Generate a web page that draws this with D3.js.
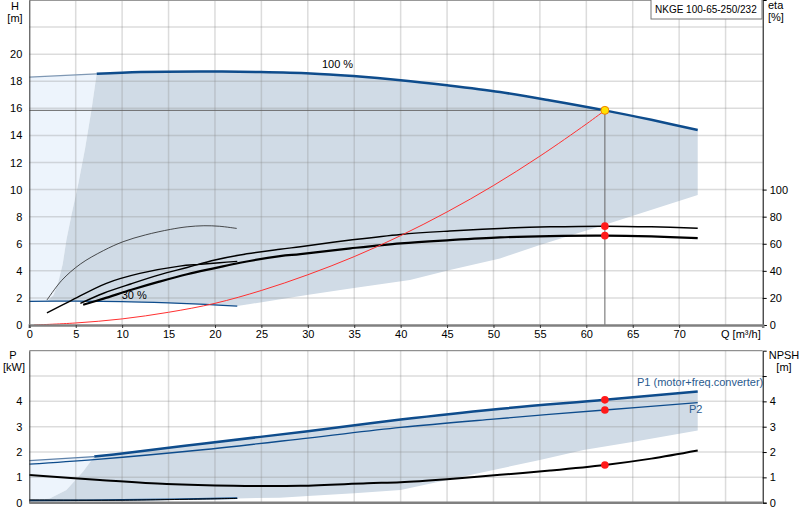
<!DOCTYPE html>
<html>
<head>
<meta charset="utf-8">
<script src="https://cdn.jsdelivr.net/npm/d3@7"></script>
<style>
  body { margin: 0; background: #fff; }
  text { font-family: "Liberation Sans", Arial, sans-serif; font-size: 11px; fill: #000; }
</style>
</head>
<body>
<div id="pumpChart"></div>
<script>
// ticks
var qTicks = [0, 5, 10, 15, 20, 25, 30, 35, 40, 45, 50, 55, 60, 65, 70];
var qGrid = [5, 10, 15, 20, 25, 30, 35, 40, 45, 50, 55, 60, 65, 70, 75];
var hTicks = [0, 2, 4, 6, 8, 10, 12, 14, 16, 18, 20];
var hGrid = [2, 4, 6, 8, 10, 12, 14, 16, 18, 20, 22];
var etaTicks = [0, 20, 40, 60, 80, 100];
var pTicks = [0, 1, 2, 3, 4];
var pGrid = [1, 2, 3, 4, 5];

// QH curves [Q m3/h, H m]
var hMax = [[0, 18.3], [7.26, 18.55], [12, 18.68], [18.4, 18.72], [24.9, 18.68], [30.3, 18.58], [34.9, 18.38],
            [40, 18.08], [45, 17.7], [50.7, 17.2], [56, 16.6], [62, 15.85], [67, 15.15], [72, 14.4]];
var hMin = [[0, 1.75], [5, 1.76], [10, 1.73], [15, 1.63], [19, 1.52], [22.4, 1.4]];
var hShadeLeft = [[1.9, 1.75], [2.6, 2.2], [3.1, 3.1], [3.6, 4.5], [4.0, 6.3], [4.6, 8.3], [5.3, 10.5],
                  [6.0, 13.0], [6.7, 15.9], [7.26, 18.55]];
var hShadeLow = [[22.4, 1.4], [23.8, 1.55], [29.9, 2.21], [34.6, 2.7], [41, 3.32], [45.3, 4.06],
                 [50.7, 4.92], [55, 5.9], [62, 7.4], [72, 9.6]];
var system = [[0.5, 0], [5, 0.15], [10, 0.45], [15, 0.94], [20, 1.6], [25, 2.55], [30, 3.71], [35, 5.05],
              [40, 6.6], [45, 8.35], [50, 10.3], [55, 12.47], [60, 14.84], [62, 15.85]];
var dutyPoint = [62, 15.85];

// efficiency curves [Q, eta %]
var etaThin = [[1.9, 18.4], [3.5, 33], [5.5, 45], [8, 55], [10.1, 61.5], [12.5, 66.5], [15.2, 70.6],
               [17, 72.5], [18.8, 73.3], [20.5, 72.9], [22.35, 71.3]];
var etaLow = [[1.9, 9], [4.4, 17.7], [8.3, 30.8], [11.9, 38.1], [16.2, 43.5], [18.4, 44.8], [20.5, 46], [22.4, 47]];
var etaPump = [[5.5, 16], [8, 23.5], [11, 30.5], [14, 37], [17, 42.5], [20, 48], [22.7, 51.7], [27, 55.9],
               [29.2, 57.8], [34.6, 62.7], [40, 66.9], [45.3, 69.4], [50.7, 71.3], [56.1, 72.5], [62, 73],
               [67, 72.5], [72, 71.4]];
var etaTotal = [[5.8, 15], [8, 19.5], [11, 26], [14, 32], [17, 37.5], [20, 42], [22.7, 46], [27, 50.9],
                [29.2, 52.4], [34.6, 56.6], [40, 60.3], [45.3, 62.7], [50.7, 64.7], [56.1, 65.7], [62, 66],
                [67, 65.4], [72, 64.2]];
var etaDuty = [73, 66];

// power / npsh curves [Q, kW or m]
var p1 = [[0, 1.66], [7, 1.82], [10, 1.94], [18.4, 2.32], [30, 2.82], [40, 3.28], [50, 3.68], [62, 4.06], [72, 4.39]];
var p2 = [[0, 1.52], [7, 1.7], [18.4, 2.08], [30, 2.55], [40, 2.97], [50, 3.3], [62, 3.66], [72, 3.95]];
var p1Min = [[0, 0.08], [10, 0.11], [22.4, 0.18]];
var p2Min = [[0, 0.11], [10, 0.1], [22.4, 0.17]];
var pShadeLeft = [[0.4, 0.08], [2.2, 0.17], [4.0, 0.5], [5.8, 1.23], [7, 1.82]];
var pShadeLow = [[22.4, 0.17], [27, 0.2], [30, 0.26], [35, 0.37], [40, 0.5], [45, 0.9], [50, 1.29],
                 [55, 1.69], [59.7, 2.08], [65.1, 2.41], [72, 2.85]];
var npsh = [[0, 1.09], [7.6, 0.9], [14.8, 0.74], [22, 0.67], [29.2, 0.67], [36.4, 0.77], [40, 0.81], [45, 0.93],
            [50.7, 1.1], [56.1, 1.27], [62, 1.49], [67, 1.74], [72, 2.06]];
var pDuty = [4.06, 3.66];
var npshDuty = 1.49;

var blue = "#0e4c8c", shade = "#d0dbe6", light = "#edf4fc";

function pumpChart() {
  var width = 800, height = 520;
  var svg = d3.select("#pumpChart").append("svg")
      .attr("width", width).attr("height", height);

  var x = d3.scaleLinear().domain([0, 79]).range([29.3, 762.7]);
  var yH = d3.scaleLinear().domain([0, 24]).range([325, 0]);
  var yEta = d3.scaleLinear().domain([0, 240]).range([325, 0]);
  var yP = d3.scaleLinear().domain([0, 6]).range([502.7, 350.7]);

  var lineH = d3.line().x(d => x(d[0])).y(d => yH(d[1])).curve(d3.curveCatmullRom);
  var lineEta = d3.line().x(d => x(d[0])).y(d => yEta(d[1])).curve(d3.curveCatmullRom);
  var lineP = d3.line().x(d => x(d[0])).y(d => yP(d[1])).curve(d3.curveCatmullRom);
  var polyH = d3.line().x(d => x(d[0])).y(d => yH(d[1])).curve(d3.curveLinearClosed);
  var polyP = d3.line().x(d => x(d[0])).y(d => yP(d[1])).curve(d3.curveLinearClosed);

  // ---------- upper chart: H / eta ----------
  var top = svg.append("g");

  // light (not reachable) region left of the shaded area
  var hTopLeft = hMax.filter(d => d[0] <= 7.26);
  var lightH = [[0, hMin[0][1]]].concat(hShadeLeft, hTopLeft.slice().reverse());
  top.append("path").attr("d", polyH(lightH)).attr("fill", light);

  // shaded operating range
  var shadeH = hShadeLeft.concat(hMax.filter(d => d[0] > 7.26), hShadeLow.slice().reverse(),
                                 hMin.slice().reverse().filter(d => d[0] > 1.9));
  top.append("path").attr("d", polyH(shadeH)).attr("fill", shade);

  // grid
  top.selectAll(".vg").data(qGrid).enter().append("line")
     .attr("x1", d => x(d)).attr("x2", d => x(d)).attr("y1", 0).attr("y2", 325)
     .attr("stroke", "#8a8a8a").attr("stroke-opacity", 0.3).attr("stroke-width", 1.5);
  top.selectAll(".hg").data(hGrid).enter().append("line")
     .attr("x1", x(0)).attr("x2", x(79)).attr("y1", d => yH(d)).attr("y2", d => yH(d))
     .attr("stroke", "#8a8a8a").attr("stroke-opacity", 0.3).attr("stroke-width", 1.5);
  top.append("line").attr("x1", x(0)).attr("x2", x(79)).attr("y1", 0.5).attr("y2", 0.5)
     .attr("stroke", "#999");

  // duty point guides
  top.append("line").attr("x1", x(0)).attr("x2", x(dutyPoint[0]))
     .attr("y1", yH(dutyPoint[1])).attr("y2", yH(dutyPoint[1])).attr("stroke", "#666");
  top.append("line").attr("x1", x(dutyPoint[0])).attr("x2", x(dutyPoint[0]))
     .attr("y1", yH(dutyPoint[1])).attr("y2", yH(0)).attr("stroke", "#666");

  // QH curves
  top.append("path").attr("d", lineH(hTopLeft)).attr("fill", "none")
     .attr("stroke", "#7f98b4").attr("stroke-width", 1.2);
  top.append("path").attr("d", lineH(hMax.filter(d => d[0] >= 7.26))).attr("fill", "none")
     .attr("stroke", blue).attr("stroke-width", 2.5);
  top.append("path").attr("d", lineH(hMin)).attr("fill", "none")
     .attr("stroke", blue).attr("stroke-width", 1.2);

  // efficiency curves
  top.append("path").attr("d", lineEta(etaThin)).attr("fill", "none").attr("stroke", "#222").attr("stroke-width", 0.8);
  top.append("path").attr("d", lineEta(etaLow)).attr("fill", "none").attr("stroke", "#000").attr("stroke-width", 1.4);
  top.append("path").attr("d", lineEta(etaPump)).attr("fill", "none").attr("stroke", "#000").attr("stroke-width", 1.5);
  top.append("path").attr("d", lineEta(etaTotal)).attr("fill", "none").attr("stroke", "#000").attr("stroke-width", 2.2);

  // system curve
  top.append("path").attr("d", lineH(system)).attr("fill", "none").attr("stroke", "#ff3030").attr("stroke-width", 1);

  top.selectAll(".ed").data(etaDuty).enter().append("circle")
     .attr("cx", x(dutyPoint[0])).attr("cy", d => yEta(d)).attr("r", 3.8).attr("fill", "#ff1a1a");
  top.append("circle").attr("cx", x(dutyPoint[0])).attr("cy", yH(dutyPoint[1])).attr("r", 4)
     .attr("fill", "#ffe200").attr("stroke", "#f08000").attr("stroke-width", 1);

  top.append("text").attr("x", x(33.2)).attr("y", yH(18.95)).attr("text-anchor", "middle").text("100 %");
  top.append("text").attr("x", x(11.3)).attr("y", yH(1.95)).attr("text-anchor", "middle").text("30 %");

  // axes
  var axL = top.append("g").attr("transform", "translate(" + x(0) + ",0)")
     .call(d3.axisLeft(yH).tickValues(hTicks).tickSize(0).tickPadding(7));
  axL.select(".domain").attr("stroke", "#333");
  var axR = top.append("g").attr("transform", "translate(" + x(79) + ",0)")
     .call(d3.axisRight(yEta).tickValues(etaTicks).tickSize(4).tickPadding(3));
  axR.select(".domain").attr("stroke", "#000");
  var axB = top.append("g").attr("transform", "translate(0," + yH(0) + ")")
     .call(d3.axisBottom(x).tickValues(qTicks).tickSize(3).tickPadding(2));
  axB.select(".domain").attr("stroke", "#808080").attr("stroke-width", 2.5);
  axB.selectAll(".tick line").attr("stroke", "#333");
  top.selectAll(".tick text").style("font-size", "11px").style("font-family", "Liberation Sans, Arial, sans-serif");

  top.append("text").attr("x", 721).attr("y", 338).text("Q [m³/h]");
  top.append("text").attr("x", 15).attr("y", 10).attr("text-anchor", "middle").text("H");
  top.append("text").attr("x", 15).attr("y", 22).attr("text-anchor", "middle").text("[m]");
  top.append("text").attr("x", 768).attr("y", 9).text("eta");
  top.append("text").attr("x", 768).attr("y", 21).text("[%]");

  // title box
  top.append("rect").attr("x", 651).attr("y", -1).attr("width", 111).attr("height", 20)
     .attr("fill", "#fff").attr("stroke", "#777");
  top.append("text").attr("x", 655).attr("y", 13).style("font-size", "10px").text("NKGE 100-65-250/232");

  // ---------- lower chart: P / NPSH ----------
  var bot = svg.append("g");

  var lightP = [[0, p1Min[0][1]]].concat(pShadeLeft, [[0, p1[0][1]]]);
  bot.append("path").attr("d", polyP(lightP)).attr("fill", light);
  var shadeP = pShadeLeft.concat(p1.filter(d => d[0] > 7), pShadeLow.slice().reverse(),
                                 p1Min.slice().reverse().filter(d => d[0] > 0.4));
  bot.append("path").attr("d", polyP(shadeP)).attr("fill", shade);

  bot.selectAll(".vg").data(qGrid).enter().append("line")
     .attr("x1", d => x(d)).attr("x2", d => x(d)).attr("y1", yP(6)).attr("y2", yP(0))
     .attr("stroke", "#8a8a8a").attr("stroke-opacity", 0.3).attr("stroke-width", 1.5);
  bot.selectAll(".hg").data(pGrid).enter().append("line")
     .attr("x1", x(0)).attr("x2", x(79)).attr("y1", d => yP(d)).attr("y2", d => yP(d))
     .attr("stroke", "#8a8a8a").attr("stroke-opacity", 0.3).attr("stroke-width", 1.5);
  bot.append("line").attr("x1", x(0)).attr("x2", x(79)).attr("y1", yP(6)).attr("y2", yP(6))
     .attr("stroke", "#777");

  bot.append("path").attr("d", lineP(p1.filter(d => d[0] <= 7))).attr("fill", "none")
     .attr("stroke", "#5f82aa").attr("stroke-width", 1.2);
  bot.append("path").attr("d", lineP(p1.filter(d => d[0] >= 7))).attr("fill", "none")
     .attr("stroke", blue).attr("stroke-width", 2.5);
  bot.append("path").attr("d", lineP(p2)).attr("fill", "none").attr("stroke", blue).attr("stroke-width", 1.3);
  bot.append("path").attr("d", lineP(p1Min)).attr("fill", "none").attr("stroke", blue).attr("stroke-width", 1.6);
  bot.append("path").attr("d", lineP(p2Min)).attr("fill", "none").attr("stroke", "#000").attr("stroke-width", 1);
  bot.append("path").attr("d", lineP(npsh)).attr("fill", "none").attr("stroke", "#000").attr("stroke-width", 2);

  bot.selectAll(".pd").data(pDuty.concat([npshDuty])).enter().append("circle")
     .attr("cx", x(dutyPoint[0])).attr("cy", d => yP(d)).attr("r", 3.8).attr("fill", "#ff1a1a");

  bot.append("text").attr("x", 637).attr("y", 386).style("fill", "#2a5a8e").text("P1 (motor+freq.converter)");
  bot.append("text").attr("x", 689).attr("y", 413).style("fill", "#2a5a8e").text("P2");

  var bL = bot.append("g").attr("transform", "translate(" + x(0) + ",0)")
     .call(d3.axisLeft(yP).tickValues(pTicks).tickSize(0).tickPadding(7).tickFormat(d3.format("d")));
  bL.select(".domain").attr("stroke", "#333");
  var bR = bot.append("g").attr("transform", "translate(" + x(79) + ",0)")
     .call(d3.axisRight(yP).tickValues(pTicks.concat([5])).tickSize(4).tickPadding(3)
           .tickFormat(d => d === 5 ? "" : d));
  bR.select(".domain").attr("stroke", "#000");
  bot.append("line").attr("x1", x(0)).attr("x2", x(79)).attr("y1", yP(0)).attr("y2", yP(0))
     .attr("stroke", "#808080").attr("stroke-width", 2.5);
  bot.selectAll(".tick text").style("font-size", "11px").style("font-family", "Liberation Sans, Arial, sans-serif");

  bot.append("text").attr("x", 13).attr("y", 359).attr("text-anchor", "middle").text("P");
  bot.append("text").attr("x", 14).attr("y", 371).attr("text-anchor", "middle").text("[kW]");
  bot.append("text").attr("x", 784).attr("y", 359).attr("text-anchor", "middle").text("NPSH");
  bot.append("text").attr("x", 784).attr("y", 371).attr("text-anchor", "middle").text("[m]");
}

pumpChart();
</script>
</body>
</html>
